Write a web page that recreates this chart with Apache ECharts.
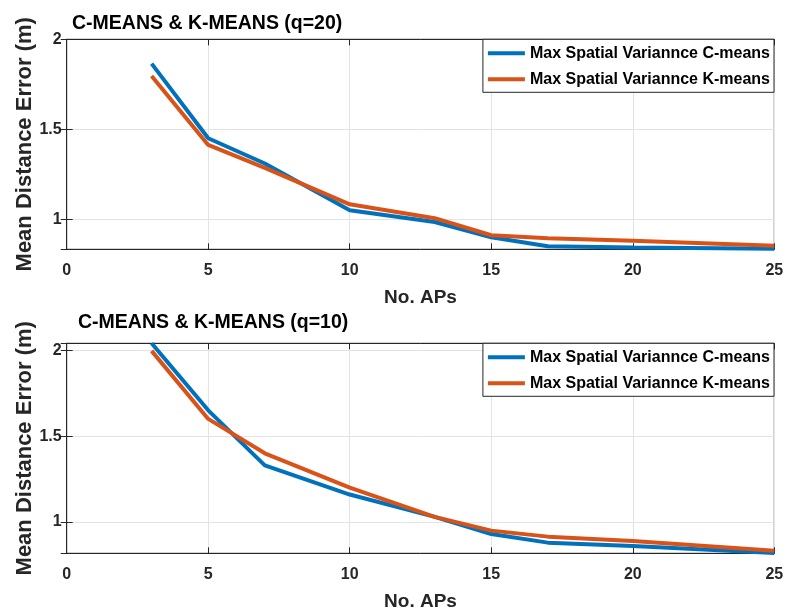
<!DOCTYPE html>
<html>
<head>
<meta charset="utf-8">
<script src="https://cdn.jsdelivr.net/npm/echarts@6/dist/echarts.min.js"></script>
<style>
  html, body { margin: 0; padding: 0; background: #fff; }
  #chart { width: 786px; height: 615px; }
</style>
</head>
<body>
<div id="chart"></div>
<script>
// x positions (number of APs)
const aps = [3, 5, 7, 10, 13, 15, 17, 20, 25];

// q = 20 (top plot)
const cMeansQ20 = [1.865, 1.45, 1.31, 1.05, 0.985, 0.90, 0.85, 0.843, 0.836];
const kMeansQ20 = [1.796, 1.413, 1.285, 1.083, 1.006, 0.911, 0.895, 0.881, 0.853];

// q = 10 (bottom plot)
const cMeansQ10 = [2.04, 1.65, 1.33, 1.16, 1.03, 0.93, 0.88, 0.86, 0.82];
const kMeansQ10 = [1.996, 1.60, 1.40, 1.20, 1.03, 0.95, 0.915, 0.89, 0.833];

const seriesNames = ['Max Spatial Variannce C-means', 'Max Spatial Variannce K-means'];
const titles = ['C-MEANS & K-MEANS (q=20)', 'C-MEANS & K-MEANS (q=10)'];
const yRanges = [[0.833, 2], [0.818, 2.04]];

const FONT = '"Liberation Sans", Arial, sans-serif';
const AXIS_COLOR = '#262626';
const BLUE = '#0072BD';
const ORANGE = '#D95319';

const pairs = (xs, ys) => xs.map((x, i) => [x, ys[i]]);

const chart = echarts.init(document.getElementById('chart'));

const gridTops = [39.3, 343.3];

const grids = gridTops.map(t => ({
  left: 66.7,
  right: 11.7,
  top: t,
  height: 210,
  containLabel: false,
  outerBoundsMode: 'none',
  show: true,
  borderColor: AXIS_COLOR,
  borderWidth: 1,
  backgroundColor: '#fff'
}));

const xAxes = [];
const yAxes = [];
[0, 1].forEach(g => {
  xAxes.push({
    type: 'value',
    gridIndex: g,
    min: 0,
    max: 25,
    interval: 5,
    name: 'No. APs',
    nameLocation: 'middle',
    nameGap: 39,
    nameMoveOverlap: false,
    nameTextStyle: {fontFamily: FONT, fontWeight: 'bold', fontSize: 19, color: AXIS_COLOR},
    axisLine: {show: true, lineStyle: {color: AXIS_COLOR, width: 1}},
    axisTick: {show: true, inside: true, length: 6, lineStyle: {color: AXIS_COLOR}},
    axisLabel: {fontFamily: FONT, fontWeight: 'bold', fontSize: 16, color: AXIS_COLOR, margin: 13},
    splitLine: {show: true, lineStyle: {color: '#e3e3e3', width: 1}}
  });
  // top mirror axis for the ticks
  xAxes.push({
    type: 'value',
    gridIndex: g,
    position: 'top',
    min: 0,
    max: 25,
    interval: 5,
    axisLine: {show: true, lineStyle: {color: AXIS_COLOR, width: 1}},
    axisTick: {show: true, inside: true, length: 6, lineStyle: {color: AXIS_COLOR}},
    axisLabel: {show: false},
    splitLine: {show: false}
  });
  const [lo, hi] = yRanges[g];
  yAxes.push({
    type: 'value',
    gridIndex: g,
    min: lo,
    max: hi,
    minInterval: 0.5,
    maxInterval: 0.5,
    splitNumber: 3,
    name: 'Mean Distance Error (m)',
    nameLocation: 'middle',
    nameGap: 31,
    nameMoveOverlap: false,
    nameTextStyle: {fontFamily: FONT, fontWeight: 'bold', fontSize: 22, color: AXIS_COLOR},
    axisLine: {show: true, lineStyle: {color: AXIS_COLOR, width: 1}},
    axisTick: {show: true, inside: true, length: 6, lineStyle: {color: AXIS_COLOR}},
    axisLabel: {
      fontFamily: FONT, fontWeight: 'bold', fontSize: 16, color: AXIS_COLOR, margin: 5,
      showMinLabel: false,
      showMaxLabel: g === 0,
      formatter: v => (Math.abs(v * 2 - Math.round(v * 2)) < 1e-6 ? String(v) : '')
    },
    splitLine: {show: true, lineStyle: {color: '#e3e3e3', width: 1}}
  });
  // right mirror axis for the ticks
  yAxes.push({
    type: 'value',
    gridIndex: g,
    position: 'right',
    min: lo,
    max: hi,
    minInterval: 0.5,
    maxInterval: 0.5,
    splitNumber: 3,
    axisLine: {show: true, lineStyle: {color: AXIS_COLOR, width: 1}},
    axisTick: {show: true, inside: true, length: 6, lineStyle: {color: AXIS_COLOR}},
    axisLabel: {show: false},
    splitLine: {show: false}
  });
});

const lineSeries = (name, color, data, g) => ({
  name: name,
  type: 'line',
  xAxisIndex: g * 2,
  yAxisIndex: g * 2,
  data: data,
  showSymbol: false,
  symbol: 'none',
  smooth: false,
  clip: true,
  lineStyle: {color: color, width: 4},
  itemStyle: {color: color},
  emphasis: {disabled: true}
});

const legendTops = [39.3, 343.3];

const option = {
  animation: false,
  textStyle: {fontFamily: FONT},
  title: titles.map((t, i) => ({
    text: t,
    left: i === 0 ? 72 : 78,
    top: i === 0 ? 14 : 313,
    padding: 0,
    textStyle: {fontFamily: FONT, fontWeight: 'bold', fontSize: 19.5, color: '#000'}
  })),
  legend: legendTops.map(t => ({
    data: seriesNames,
    orient: 'vertical',
    right: 12,
    top: t,
    padding: [6, 4, 5, 5],
    itemGap: 10,
    itemWidth: 37,
    itemHeight: 4,
    icon: 'rect',
    selectedMode: false,
    backgroundColor: '#fff',
    borderColor: AXIS_COLOR,
    borderWidth: 1,
    borderRadius: 0,
    textStyle: {fontFamily: FONT, fontWeight: 'bold', fontSize: 16, color: '#000', lineHeight: 15}
  })),
  grid: grids,
  xAxis: xAxes,
  yAxis: yAxes,
  series: [
    lineSeries(seriesNames[0], BLUE, pairs(aps, cMeansQ20), 0),
    lineSeries(seriesNames[1], ORANGE, pairs(aps, kMeansQ20), 0),
    lineSeries(seriesNames[0], BLUE, pairs(aps, cMeansQ10), 1),
    lineSeries(seriesNames[1], ORANGE, pairs(aps, kMeansQ10), 1)
  ]
};

chart.setOption(option);
</script>
</body>
</html>
